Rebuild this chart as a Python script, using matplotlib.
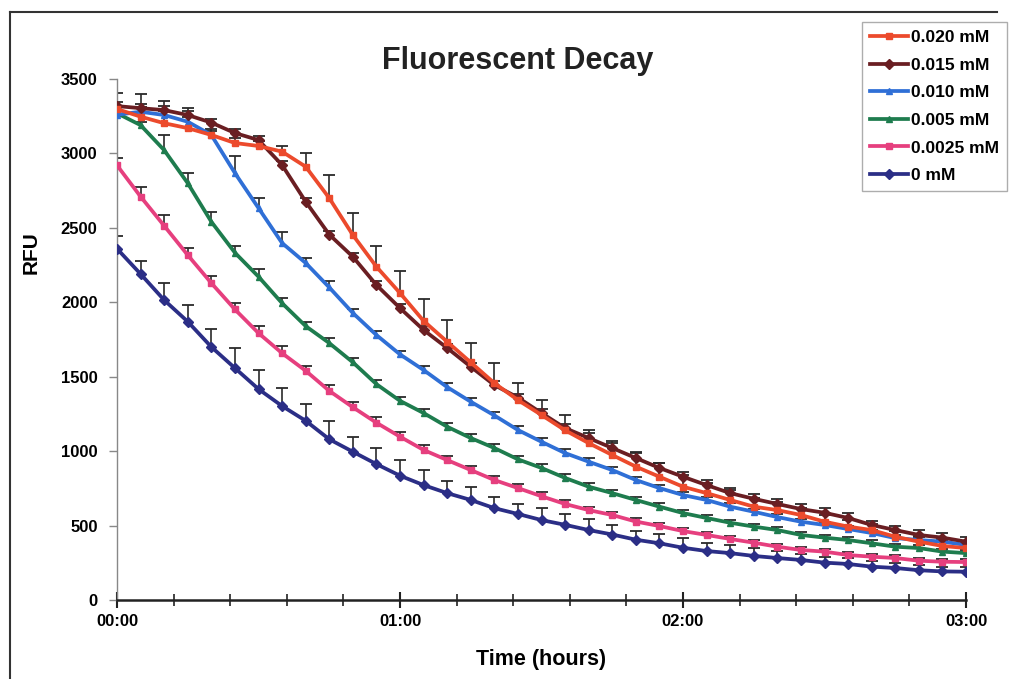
import numpy as np
import matplotlib
matplotlib.use("Agg")
import matplotlib.pyplot as plt
from matplotlib.lines import Line2D
from matplotlib.ticker import MultipleLocator, FuncFormatter

plt.rcParams['font.family'] = ['Liberation Sans', 'DejaVu Sans']

# tempo em minutos (leitura a cada 5 min)
minutos = np.arange(0, 181, 5)

rotulos = ["0.020 mM", "0.015 mM", "0.010 mM", "0.005 mM", "0.0025 mM", "0 mM"]
cores = ["#EC4A2C", "#6A1E22", "#2F6FD6", "#1E7C4E", "#E63F7E", "#2B2E86"]
marcadores = ["s", "D", "^", "^", "s", "D"]

rfu_020 = [3298, 3247, 3203, 3170, 3124, 3070, 3050, 3012, 2911, 2700, 2452, 2239, 2062,
           1875, 1735, 1596, 1457, 1343, 1243, 1140, 1054, 974, 896, 828, 761, 718, 672,
           627, 604, 571, 526, 493, 470, 425, 392, 363, 349]
rfu_015 = [3318, 3304, 3291, 3258, 3207, 3137, 3090, 2922, 2676, 2455, 2306, 2116, 1961,
           1814, 1693, 1567, 1444, 1360, 1256, 1155, 1088, 1021, 954, 887, 828, 772, 718,
           680, 645, 611, 586, 551, 504, 470, 437, 419, 392]
rfu_010 = [3260, 3280, 3258, 3213, 3124, 2868, 2633, 2398, 2264, 2100, 1928, 1780, 1650,
           1545, 1430, 1332, 1240, 1142, 1063, 987, 929, 873, 806, 752, 705, 672, 627,
           593, 557, 526, 504, 477, 450, 416, 403, 392, 370]
rfu_005 = [3270, 3190, 3022, 2800, 2541, 2333, 2172, 1994, 1840, 1726, 1597, 1450, 1338,
           1256, 1164, 1088, 1021, 945, 887, 820, 761, 718, 672, 627, 584, 551, 519, 493,
           470, 437, 419, 403, 381, 358, 349, 325, 315]
rfu_0025 = [2920, 2710, 2514, 2317, 2129, 1952, 1793, 1658, 1540, 1405, 1295, 1191, 1097,
            1008, 940, 873, 806, 752, 697, 645, 604, 571, 527, 497, 463, 437, 410, 385,
            358, 336, 325, 302, 291, 282, 264, 257, 255]
rfu_0 = [2360, 2190, 2015, 1870, 1700, 1558, 1417, 1303, 1204, 1080, 996, 913, 835, 772,
         718, 672, 617, 578, 537, 505, 470, 440, 405, 381, 351, 329, 315, 296, 282, 269,
         251, 242, 224, 215, 200, 192, 190]

# desvio (somente a barra superior aparece no grafico)
err_020 = [107, 150, 146, 134, 40, 35, 35, 35, 90, 157, 150, 139, 146, 146, 146, 130, 134,
           118, 100, 105, 85, 95, 95, 90, 80, 70, 65, 60, 55, 50, 45, 45, 40, 40, 35, 35, 30]
err_015 = [25, 25, 25, 25, 25, 25, 25, 25, 25, 25, 25, 25, 25, 25, 25, 25, 25, 25, 30, 30,
           35, 35, 35, 35, 35, 35, 35, 35, 35, 35, 35, 35, 30, 30, 30, 30, 30]
err_010 = [30, 30, 30, 30, 30, 112, 67, 72, 34, 45, 27, 25, 25, 25, 25, 25, 25, 25, 25, 25,
           25, 22, 22, 22, 22, 22, 22, 20, 20, 20, 20, 20, 20, 20, 20, 20, 20]
err_005 = [25, 22, 100, 67, 67, 45, 52, 34, 27, 34, 30, 30, 28, 28, 26, 26, 25, 25, 24, 24,
           22, 22, 22, 22, 20, 20, 20, 20, 20, 20, 20, 20, 20, 20, 20, 20, 20]
err_0025 = [52, 67, 71, 45, 45, 40, 45, 45, 34, 40, 34, 36, 33, 32, 30, 30, 28, 28, 26, 25,
            24, 22, 22, 22, 20, 20, 20, 20, 20, 20, 20, 20, 20, 20, 20, 20, 20]
err_0 = [85, 90, 112, 112, 123, 134, 130, 119, 116, 120, 100, 105, 105, 98, 80, 88, 78, 70,
         78, 76, 74, 67, 58, 63, 65, 56, 56, 51, 45, 42, 40, 38, 36, 34, 32, 30, 30]

series = [rfu_020, rfu_015, rfu_010, rfu_005, rfu_0025, rfu_0]
erros = [err_020, err_015, err_010, err_005, err_0025, err_0]

fig = plt.figure(figsize=(10.10, 6.79), dpi=100)
ax = fig.add_axes([117 / 1010, 79 / 679, (966 - 117) / 1010, (600 - 79) / 679])

# barras de erro primeiro (ficam atras das linhas)
for valores, erro in zip(series, erros):
    v = np.array(valores)
    e = np.array(erro)
    ax.vlines(minutos, v, v + e, color="#2a2a2a", lw=1.2, zorder=1)
    ax.plot(minutos, v + e, ls="none", marker="_", ms=8, mew=1.3, color="#2a2a2a", zorder=1)

handles = []
for i in range(len(series) - 1, -1, -1):
    linha, = ax.plot(minutos, series[i], color=cores[i], lw=2.7, marker=marcadores[i],
                     ms=5, mec=cores[i], mfc=cores[i], label=rotulos[i], zorder=2 + (6 - i))
    handles.insert(0, linha)

ax.set_xlim(0, 180)
ax.set_ylim(0, 3500)
ax.xaxis.set_major_locator(MultipleLocator(60))
ax.xaxis.set_minor_locator(MultipleLocator(12))
ax.xaxis.set_major_formatter(FuncFormatter(lambda m, p: f"{int(m // 60):02d}:{int(m % 60):02d}"))
ax.yaxis.set_major_locator(MultipleLocator(500))

for s in ["top", "right"]:
    ax.spines[s].set_visible(False)
ax.spines["left"].set_color("#888888")
ax.spines["left"].set_linewidth(1.0)
ax.spines["bottom"].set_color("#222222")
ax.spines["bottom"].set_linewidth(1.8)

ax.tick_params(axis="x", which="major", direction="inout", length=12, width=1.5,
               color="#222222", labelsize=12, pad=4)
ax.tick_params(axis="x", which="minor", direction="inout", length=9, width=1.2, color="#222222")
ax.tick_params(axis="y", direction="out", length=6, width=1, color="#888888", labelsize=12, pad=8)
for t in ax.get_xticklabels() + ax.get_yticklabels():
    t.set_fontweight("bold")

ax.set_xlabel("Time (hours)", fontsize=15.5, fontweight="bold")
ax.xaxis.set_label_coords(0.5, -(660 - 600) / 521, transform=ax.transAxes)
ax.xaxis.label.set_va("center")
ax.set_ylabel("RFU", fontsize=15, fontweight="bold")
ax.yaxis.set_label_coords(-(117 - 31) / 849, (600 - 253) / 521, transform=ax.transAxes)
ax.yaxis.label.set_va("center")
fig.text(518 / 1010, 1 - 61 / 679, "Fluorescent Decay", ha="center", va="center",
         fontsize=22, fontweight="bold", color="#222222")

leg = fig.legend(handles=handles, loc="upper left", bbox_to_anchor=(862 / 1010, 1 - 22 / 679),
                 prop={"weight": "bold", "size": 12.5}, frameon=True, fancybox=False,
                 edgecolor="#999999", handlelength=2.2, handletextpad=0.2,
                 labelspacing=0.72, borderpad=0.45, borderaxespad=0)
leg.get_frame().set_linewidth(1.0)

# moldura do recorte original (esquerda e topo)
fig.add_artist(Line2D([10 / 1010, 10 / 1010], [0, 1 - 12 / 679], color="#333333", lw=1.5))
fig.add_artist(Line2D([10 / 1010, 997 / 1010], [1 - 12 / 679, 1 - 12 / 679], color="#333333", lw=1.5))

fig.savefig("out.png", dpi=100)
